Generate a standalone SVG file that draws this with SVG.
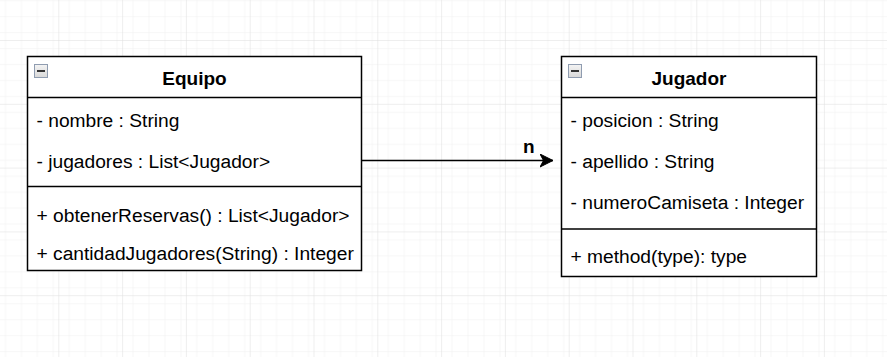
<svg xmlns="http://www.w3.org/2000/svg" width="887" height="357" viewBox="0 0 887 357">
  <style>
    .box { fill: #ffffff; stroke: #000000; stroke-width: 1.5; }
    .sep { stroke: #000000; stroke-width: 1.5; }
    .title { font-family: "Liberation Sans", Arial, sans-serif; font-size: 19px; font-weight: bold; fill: #000000; text-anchor: middle; }
    .member { font-family: "Liberation Sans", Arial, sans-serif; font-size: 19.2px; fill: #000000; }
    .label { font-family: "Liberation Sans", Arial, sans-serif; font-size: 19px; font-weight: bold; fill: #000000; }
    .edge { stroke: #000000; stroke-width: 1.5; fill: none; }
    .toggle { fill: url(#toggleFill); stroke: #8f9cb0; stroke-width: 1; }
    .toggle-bar { stroke: #333333; stroke-width: 2; }
  </style>
  <defs>
    <pattern id="minorGrid" width="15.95" height="15.95" patternUnits="userSpaceOnUse" x="58.3" y="40">
      <path d="M0 0 H15.95 M0 0 V15.95" stroke="#efefef" stroke-width="1" fill="none"/>
    </pattern>
    <pattern id="majorGrid" width="63.8" height="63.8" patternUnits="userSpaceOnUse" x="58.3" y="40">
      <rect width="63.8" height="63.8" fill="url(#minorGrid)"/>
      <path d="M0 0 H63.8 M0 0 V63.8" stroke="#dedede" stroke-width="1" fill="none"/>
    </pattern>
    <linearGradient id="toggleFill" x1="0" y1="0" x2="0" y2="1">
      <stop offset="0" stop-color="#f4f4f4"/>
      <stop offset="1" stop-color="#d8d8d8"/>
    </linearGradient>
    <marker id="arrowHead" markerWidth="14" markerHeight="14" refX="13" refY="7" orient="auto" markerUnits="userSpaceOnUse">
      <path d="M0 0.5 L13 7 L0 13.5 L3.5 7 Z" fill="#000000" stroke="#000000" stroke-width="1"/>
    </marker>
  </defs>

  <!-- canvas grid -->
  <rect width="887" height="357" fill="#ffffff"/>
  <rect width="887" height="357" fill="url(#majorGrid)"/>

  <!-- association -->
  <g id="connectors">
    <line class="edge" x1="362" y1="160.5" x2="553" y2="160.5" marker-end="url(#arrowHead)"/>
    <text class="label" x="523" y="153">n</text>
  </g>

  <!-- class Equipo -->
  <g id="equipo">
    <rect class="box" x="27.5" y="56.5" width="334" height="214"/>
    <line class="sep" x1="27.5" y1="97.5" x2="361.5" y2="97.5"/>
    <line class="sep" x1="27.5" y1="186.5" x2="361.5" y2="186.5"/>
    <rect class="toggle" x="34.5" y="64.5" width="13" height="13"/>
    <line class="toggle-bar" x1="37" y1="71" x2="45" y2="71"/>
    <text class="title" x="194.5" y="85">Equipo</text>
    <text class="member" x="36.5" y="127">- nombre : String</text>
    <text class="member" x="36.5" y="168">- jugadores : List&lt;Jugador&gt;</text>
    <text class="member" x="36.5" y="221.5">+ obtenerReservas() : List&lt;Jugador&gt;</text>
    <text class="member" x="36.5" y="259.5">+ cantidadJugadores(String) : Integer</text>
  </g>

  <!-- class Jugador -->
  <g id="jugador">
    <rect class="box" x="561.5" y="56.5" width="255" height="220"/>
    <line class="sep" x1="561.5" y1="97.5" x2="816.5" y2="97.5"/>
    <line class="sep" x1="561.5" y1="229" x2="816.5" y2="229"/>
    <rect class="toggle" x="568.5" y="64.5" width="13" height="13"/>
    <line class="toggle-bar" x1="571" y1="71" x2="579" y2="71"/>
    <text class="title" x="689" y="85">Jugador</text>
    <text class="member" x="570.5" y="127">- posicion : String</text>
    <text class="member" x="570.5" y="168">- apellido : String</text>
    <text class="member" x="570.5" y="209">- numeroCamiseta : Integer</text>
    <text class="member" x="570.5" y="263">+ method(type): type</text>
  </g>
</svg>
